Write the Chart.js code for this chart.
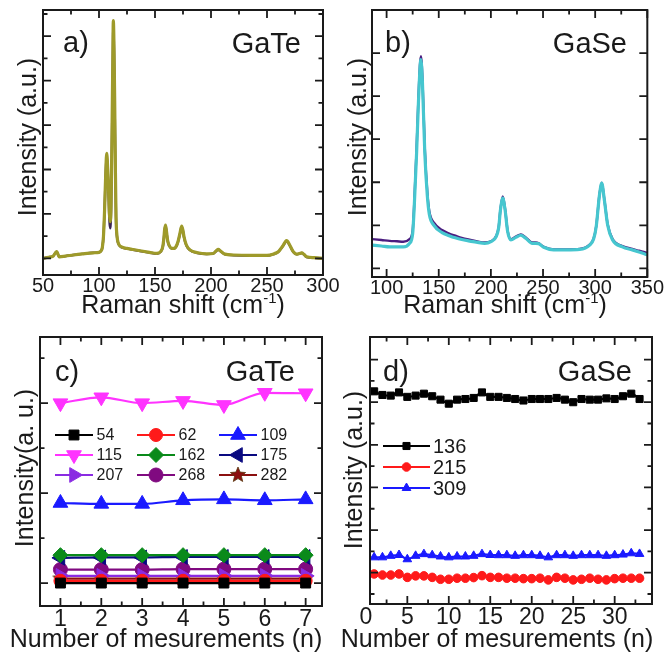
<!DOCTYPE html>
<html>
<head>
<meta charset="utf-8">
<script src="https://cdn.jsdelivr.net/npm/chart.js@4.4.1/dist/chart.umd.min.js"></script>
<style>
  body { margin: 0; background: #fff; }
  #wrap { position: relative; width: 665px; height: 652px; }
  #wrap canvas { position: absolute; left: 0; top: 0; }
</style>
</head>
<body>
<div id="wrap">
  <canvas id="chartA" width="665" height="652"></canvas>
  <canvas id="chartB" width="665" height="652"></canvas>
  <canvas id="chartC" width="665" height="652"></canvas>
  <canvas id="chartD" width="665" height="652"></canvas>
</div>
<script>
// a) GaTe spectra (Raman shift, intensity in arbitrary units)
const shiftA = [
  50, 55, 59, 62.2, 64.5, 70, 77, 85, 95, 100,
  102, 103, 104, 105, 106, 106.9, 107.8, 108.6, 109.3, 110,
  110.8, 111.6, 112.3, 112.8, 113.4, 114, 114.6, 115.2, 116, 117.3,
  120, 124.7, 130, 136.6, 145, 151.5, 155, 156.9, 157.8, 158.6,
  159.4, 160.3, 161.3, 163, 164.9, 167, 168.5, 170.5, 172.3, 173.8,
  175, 175.9, 178, 181.2, 188, 196.2, 202, 204.5, 206.5, 208.5,
  212.5, 220, 235, 250, 256, 260.1, 262.5, 264.6, 266.5, 267.6,
  269, 271.1, 273.5, 276.5, 279, 281, 283, 285.4, 292, 300
]
const gateTop = [
  0.0, 0.05, 0.1, 0.3, 0.07, 0.1, 0.15, 0.2, 0.25, 0.27,
  0.35, 0.5, 1.0, 2.2, 3.8, 4.73, 4.0, 3.0, 2.0, 1.65,
  2.5, 5.6, 8.8, 10.7, 9.5, 7.1, 4.2, 1.87, 1.05, 0.68,
  0.52, 0.45, 0.4, 0.34, 0.27, 0.22, 0.3, 0.52, 0.85, 1.3,
  1.5, 1.2, 0.8, 0.55, 0.45, 0.45, 0.5, 0.75, 1.13, 1.45,
  1.25, 0.97, 0.6, 0.38, 0.25, 0.2, 0.22, 0.33, 0.4, 0.33,
  0.19, 0.15, 0.13, 0.13, 0.2, 0.3, 0.45, 0.6, 0.76, 0.8,
  0.72, 0.52, 0.3, 0.19, 0.22, 0.25, 0.18, 0.07, 0.03, 0.0
]
const gateUnder = [
  0.0, 0.05, 0.1, 0.3, 0.07, 0.1, 0.15, 0.2, 0.25, 0.27,
  0.35, 0.5, 1.0, 2.2, 3.8, 4.7, 3.9, 2.8, 1.7, 1.35,
  2.2, 5.4, 8.6, 10.5, 9.4, 7.0, 4.0, 1.8, 1.0, 0.66,
  0.5, 0.44, 0.39, 0.33, 0.26, 0.21, 0.29, 0.5, 0.83, 1.28,
  1.47, 1.18, 0.78, 0.53, 0.44, 0.44, 0.49, 0.73, 1.1, 1.42,
  1.22, 0.95, 0.58, 0.37, 0.24, 0.19, 0.21, 0.32, 0.39, 0.32,
  0.18, 0.14, 0.12, 0.12, 0.19, 0.29, 0.44, 0.58, 0.74, 0.78,
  0.7, 0.5, 0.29, 0.18, 0.21, 0.24, 0.17, 0.06, 0.02, 0.0
]

// b) GaSe spectra
const shiftB = [
  86, 95, 103, 110, 116, 122, 125, 126.5, 128.8, 130.6,
  132.9, 134.4, 136.6, 139.1, 141, 145.4, 153.2, 160, 165.9, 172,
  178.4, 186, 194.1, 200, 205.1, 207.5, 209.2, 211.4, 213.6, 216.1,
  219.2, 223.9, 228.7, 233.4, 239.7, 243, 246, 250.7, 260.1, 272.7,
  285.2, 294.7, 298.5, 301, 304.1, 306.3, 308.8, 312, 316.7, 326.1,
  335.6, 342, 348.1, 350
]
const gaseCyan = [
  0.54, 0.52, 0.50, 0.50, 0.50, 0.58, 0.81, 1.43, 2.7, 3.9,
  4.85, 4.3, 2.7, 1.67, 1.25, 1.0, 0.83, 0.76, 0.71, 0.67,
  0.64, 0.61, 0.58, 0.62, 0.74, 0.95, 1.36, 1.63, 1.36, 0.85,
  0.66, 0.72, 0.77, 0.70, 0.58, 0.58, 0.57, 0.49, 0.43, 0.43,
  0.44, 0.54, 0.68, 0.97, 1.7, 1.98, 1.59, 1.0, 0.66, 0.50,
  0.43, 0.38, 0.33, 0.32
]
const gasePurple = [
  0.68, 0.66, 0.64, 0.63, 0.62, 0.68, 0.88, 1.5, 2.8, 4.0,
  4.93, 4.4, 2.8, 1.75, 1.32, 1.06, 0.89, 0.81, 0.76, 0.71,
  0.67, 0.63, 0.60, 0.63, 0.75, 0.96, 1.38, 1.67, 1.38, 0.87,
  0.68, 0.74, 0.79, 0.72, 0.60, 0.60, 0.58, 0.50, 0.44, 0.44,
  0.45, 0.55, 0.69, 0.98, 1.71, 1.99, 1.60, 1.02, 0.68, 0.52,
  0.45, 0.41, 0.37, 0.36
]

// c) GaTe peak intensity vs measurement
const measC = [1, 2, 3, 4, 5, 6, 7]
const c54  = [0.0, 0.0, 0.0, 0.0, 0.0, 0.0, 0.0]
const c62  = [0.05, 0.05, 0.05, 0.05, 0.05, 0.05, 0.05]
const c109 = [1.78, 1.76, 1.76, 1.84, 1.86, 1.84, 1.86]
const c115 = [4.0, 4.13, 4.0, 4.05, 3.96, 4.23, 4.22]
const c162 = [0.62, 0.62, 0.62, 0.62, 0.62, 0.62, 0.62]
const c175 = [0.56, 0.57, 0.57, 0.58, 0.58, 0.58, 0.58]
const c207 = [0.16, 0.16, 0.16, 0.16, 0.16, 0.16, 0.16]
const c268 = [0.30, 0.30, 0.30, 0.31, 0.31, 0.31, 0.31]
const c282 = [0.10, 0.10, 0.10, 0.10, 0.10, 0.10, 0.10]

// d) GaSe peak intensity vs measurement
const measD = [1, 2, 3, 4, 5, 6, 7, 8, 9, 10, 11, 12, 13, 14, 15, 16, 17,
  18, 19, 20, 21, 22, 23, 24, 25, 26, 27, 28, 29, 30, 31, 32, 33]
const d136 = [9.51, 9.34, 9.31, 9.46, 9.25, 9.31, 9.40, 9.28, 9.12, 8.93, 9.12,
  9.15, 9.20, 9.46, 9.25, 9.25, 9.20, 9.15, 9.08, 9.15, 9.15, 9.15, 9.20,
  9.12, 9.00, 9.15, 9.12, 9.12, 9.18, 9.15, 9.28, 9.40, 9.15]
const d215 = [0.94, 0.89, 0.89, 0.94, 0.78, 0.85, 0.85, 0.78, 0.69, 0.69, 0.74,
  0.74, 0.77, 0.86, 0.78, 0.78, 0.74, 0.74, 0.72, 0.72, 0.74, 0.66, 0.78,
  0.74, 0.66, 0.69, 0.74, 0.69, 0.66, 0.72, 0.74, 0.74, 0.74]
const d309 = [1.72, 1.72, 1.79, 1.83, 1.63, 1.79, 1.87, 1.82, 1.76, 1.72, 1.76,
  1.76, 1.79, 1.87, 1.83, 1.82, 1.82, 1.79, 1.82, 1.82, 1.79, 1.72, 1.82,
  1.82, 1.79, 1.82, 1.82, 1.82, 1.79, 1.82, 1.85, 1.91, 1.88]
const ticksD = [0, 5, 10, 15, 20, 25, 30]

const FONT = '"Liberation Sans", Arial, Helvetica, sans-serif'
const INK = '#1a1a1a'

const pts = (xs, ys) => xs.map((x, i) => ({x: x, y: ys[i]}))
const steps = (from, to, step) => {
  const out = []
  for (let v = from; v <= to + 1e-9; v += step) out.push(+v.toFixed(4))
  return out
}

// filled star for the 282 series
function starImg(r, fill) {
  const c = document.createElement('canvas')
  c.width = c.height = r * 2 + 2
  const g = c.getContext('2d')
  g.beginPath()
  for (let k = 0; k < 10; k++) {
    const rr = k % 2 ? r * 0.45 : r
    const a = -Math.PI / 2 + k * Math.PI / 5
    g.lineTo(r + 1 + rr * Math.cos(a), r + 1 + rr * Math.sin(a))
  }
  g.closePath()
  g.fillStyle = fill
  g.fill()
  g.strokeStyle = '#5a3a10'
  g.lineWidth = 0.8
  g.stroke()
  return c
}

// frame with inward ticks on all four sides
function frameTicks(spec) {
  return {
    id: 'frameTicks',
    afterDatasetsDraw(chart) {
      const {ctx, chartArea: a, scales: {x, y}} = chart
      ctx.save()
      ctx.strokeStyle = INK
      ctx.lineWidth = 1.8
      ctx.beginPath()
      const tx = (vals, len) => vals.forEach(v => {
        const p = x.getPixelForValue(v)
        ctx.moveTo(p, a.bottom); ctx.lineTo(p, a.bottom - len)
        ctx.moveTo(p, a.top); ctx.lineTo(p, a.top + len)
      })
      const ty = (vals, len) => vals.forEach(v => {
        const p = y.getPixelForValue(v)
        ctx.moveTo(a.left, p); ctx.lineTo(a.left + len, p)
        ctx.moveTo(a.right, p); ctx.lineTo(a.right - len, p)
      })
      tx(spec.xMajor, 8); tx(spec.xMinor, 4.5)
      ty(spec.yMajor, 8); ty(spec.yMinor, 4.5)
      ctx.stroke()
      ctx.lineWidth = 2
      ctx.strokeRect(a.left, a.top, a.right - a.left, a.bottom - a.top)
      ctx.restore()
    }
  }
}

// panel letters, material names and axis titles
function panelText(items) {
  return {
    id: 'panelText',
    afterDraw(chart) {
      const ctx = chart.ctx
      items.forEach(it => {
        ctx.save()
        ctx.fillStyle = INK
        ctx.textBaseline = 'alphabetic'
        ctx.translate(it.x, it.y)
        if (it.rot) ctx.rotate(it.rot)
        const parts = it.parts || [{t: it.t}]
        let w = 0
        parts.forEach(p => {
          ctx.font = (p.size || it.size) + 'px ' + FONT
          w += ctx.measureText(p.t).width
        })
        let px = it.align === 'left' ? 0 : it.align === 'right' ? -w : -w / 2
        parts.forEach(p => {
          ctx.font = (p.size || it.size) + 'px ' + FONT
          ctx.fillText(p.t, px, p.dy || 0)
          px += ctx.measureText(p.t).width
        })
        ctx.restore()
      })
    }
  }
}

// legend drawn inside the plot, grid of line + marker + label
function legendGrid(spec) {
  return {
    id: 'legendGrid',
    afterDraw(chart) {
      const ctx = chart.ctx
      chart.data.datasets.forEach((ds, i) => {
        const col = i % spec.cols
        const row = Math.floor(i / spec.cols)
        const x = spec.x + col * spec.colW
        const y = spec.y + row * spec.rowH
        ctx.save()
        ctx.strokeStyle = ds.borderColor
        ctx.lineWidth = ds.borderWidth
        ctx.beginPath()
        ctx.moveTo(x, y); ctx.lineTo(x + spec.len, y)
        ctx.stroke()
        ctx.fillStyle = ds.pointBackgroundColor
        ctx.strokeStyle = ds.pointBorderColor
        ctx.lineWidth = 1
        Chart.helpers.drawPoint(ctx, {
          pointStyle: ds.pointStyle, rotation: ds.pointRotation || 0,
          radius: ds.pointRadius, borderWidth: 1
        }, x + spec.len / 2, y)
        ctx.fillStyle = INK
        ctx.font = spec.size + 'px ' + FONT
        ctx.textBaseline = 'middle'
        ctx.fillText(ds.label, x + spec.len + spec.gap, y + 1)
        ctx.restore()
      })
    }
  }
}

function panel(id, box, xr, yr, tickSize, tickPad, datasets, plugins) {
  const x = {
    type: 'linear', min: xr.min, max: xr.max,
    grid: {display: false, drawTicks: false},
    border: {display: false},
    afterFit: s => { s.height = 40 },
    ticks: {
      stepSize: xr.step, includeBounds: false, autoSkip: false, maxRotation: 0,
      padding: tickPad, color: INK,
      font: {family: FONT, size: tickSize, lineHeight: 1}
    }
  }
  if (xr.values) x.afterBuildTicks = s => { s.ticks = xr.values.map(v => ({value: v})) }
  return new Chart(document.getElementById(id), {
    type: 'line',
    data: {datasets: datasets},
    options: {
      responsive: false,
      animation: false,
      devicePixelRatio: 1,
      layout: {padding: {left: box.l, top: box.t, right: 665 - box.r, bottom: 652 - box.b - 40}},
      plugins: {legend: {display: false}, tooltip: {enabled: false}},
      elements: {line: {cubicInterpolationMode: 'monotone'}},
      scales: {
        x: x,
        y: {type: 'linear', display: false, min: yr.min, max: yr.max}
      }
    },
    plugins: plugins
  })
}

const spectrum = (xs, ys, color, w) => ({
  data: pts(xs, ys), borderColor: color, borderWidth: w,
  pointRadius: 0, fill: false
})

// ---------- a) GaTe spectra
panel('chartA', {l: 43, r: 323, t: 10, b: 275},
  {min: 50, max: 300, step: 50}, {min: -0.75, max: 11.18}, 20, 1,
  [spectrum(shiftA, gateTop, '#9e9a2a', 3.2), spectrum(shiftA, gateUnder, '#3b2452', 2.4)],
  [frameTicks({xMajor: steps(50, 300, 50), xMinor: steps(75, 275, 50),
               yMajor: steps(0, 10, 2), yMinor: steps(1, 11, 2)}),
   panelText([
     {t: 'a)', x: 63, y: 52, size: 29, align: 'left'},
     {t: 'GaTe', x: 301, y: 53, size: 29, align: 'right'},
     {t: 'Intensity (a.u.)', x: 36, y: 137, size: 25, rot: -Math.PI / 2},
     {parts: [{t: 'Raman shift (cm'}, {t: '-1', size: 15, dy: -10}, {t: ')'}], x: 183, y: 313, size: 25}
   ])])

// ---------- b) GaSe spectra
panel('chartB', {l: 372, r: 652, t: 10, b: 277},
  {min: 86, max: 350, step: 50}, {min: -0.2, max: 6.0}, 20, 1,
  [spectrum(shiftB, gaseCyan, '#46c6cf', 3.2), spectrum(shiftB, gasePurple, '#4b1d80', 2.4)],
  [frameTicks({xMajor: steps(100, 350, 50), xMinor: steps(125, 325, 50),
               yMajor: steps(0, 5, 1), yMinor: []}),
   panelText([
     {t: 'b)', x: 385, y: 52, size: 29, align: 'left'},
     {t: 'GaSe', x: 627, y: 53, size: 29, align: 'right'},
     {t: 'Intensity (a.u.)', x: 366, y: 137, size: 25, rot: -Math.PI / 2},
     {parts: [{t: 'Raman shift (cm'}, {t: '-1', size: 15, dy: -10}, {t: ')'}], x: 505, y: 313, size: 25}
   ])])

// ---------- c) GaTe intensities
const series = (label, xs, ys, color, style, r, rot) => ({
  label: label, data: pts(xs, ys), borderColor: color, borderWidth: 2.2,
  pointStyle: style, pointRadius: r, pointRotation: rot || 0,
  pointBackgroundColor: color, pointBorderColor: color, pointBorderWidth: 1, fill: false
})
const star = starImg(8, '#8b1010')
const peaksC = [
  series('54', measC, c54, '#000000', 'rect', 7),
  series('62', measC, c62, '#ff1a1a', 'circle', 6.5),
  series('109', measC, c109, '#1a1aff', 'triangle', 8.5),
  series('115', measC, c115, '#ff33ff', 'triangle', 8.5, 180),
  series('162', measC, c162, '#0a8a1a', 'rectRot', 7.5),
  series('175', measC, c175, '#0a0a80', 'triangle', 8.5, 270),
  series('207', measC, c207, '#8a2be2', 'triangle', 8.5, 90),
  series('268', measC, c268, '#800a80', 'circle', 7),
  series('282', measC, c282, '#8b1010', star, 8)
]
panel('chartC', {l: 40, r: 322, t: 337, b: 606},
  {min: 0.5, max: 7.4, step: 1}, {min: -0.51, max: 5.47}, 23, 2,
  peaksC,
  [frameTicks({xMajor: steps(1, 7, 1), xMinor: steps(1.5, 7, 1),
               yMajor: steps(0, 4, 2), yMinor: steps(1, 5, 2)}),
   legendGrid({x: 55, y: 435, cols: 3, colW: 82, rowH: 20, len: 38, gap: 3.5, size: 16}),
   panelText([
     {t: 'c)', x: 55, y: 381, size: 29, align: 'left'},
     {t: 'GaTe', x: 295, y: 381, size: 29, align: 'right'},
     {t: 'Intensity(a. u.)', x: 33, y: 468, size: 25, rot: -Math.PI / 2},
     {t: 'Number of mesurements (n)', x: 166, y: 647, size: 25}
   ])])

// ---------- d) GaSe intensities
const peaksD = [
  series('136', measD, d136, '#000000', 'rect', 5),
  series('215', measD, d215, '#ff1a1a', 'circle', 4.3),
  series('309', measD, d309, '#1a1aff', 'triangle', 5)
]
panel('chartD', {l: 370, r: 652, t: 337, b: 604},
  {min: 0.5, max: 34.5, step: 5, values: ticksD}, {min: -0.47, max: 12.06}, 23, 2,
  peaksD,
  [frameTicks({xMajor: steps(5, 30, 5), xMinor: steps(2.5, 32.5, 5),
               yMajor: steps(1, 11, 2), yMinor: steps(0, 10, 2)}),
   legendGrid({x: 383, y: 446, cols: 1, colW: 0, rowH: 21, len: 47, gap: 3, size: 20}),
   panelText([
     {t: 'd)', x: 383, y: 381, size: 29, align: 'left'},
     {t: 'GaSe', x: 632, y: 381, size: 29, align: 'right'},
     {t: 'Intensity (a.u.)', x: 362, y: 470, size: 25, rot: -Math.PI / 2},
     {t: 'Number of mesurements (n)', x: 497, y: 647, size: 25}
   ])])
</script>
</body>
</html>
